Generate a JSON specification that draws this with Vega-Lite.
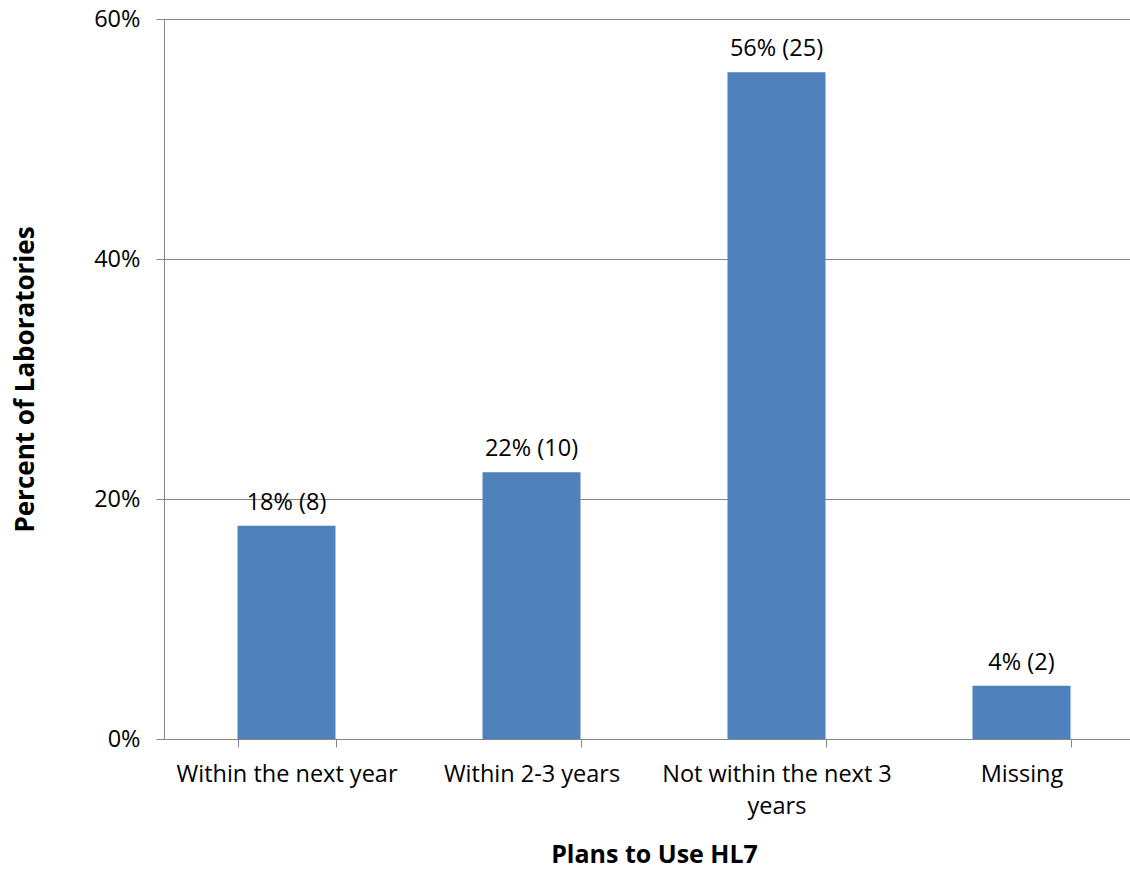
{
  "$schema": "https://vega.github.io/schema/vega-lite/v6.json",
  "width": 980,
  "height": 720,
  "autosize": {"type": "none"},
  "padding": {"left": 164, "top": 19, "right": -14, "bottom": 130},
  "background": "white",
  "config": {
    "view": {"stroke": null},
    "font": "Open Sans",
    "axis": {"labelFont": "Open Sans", "titleFont": "Open Sans", "labelColor": "#000000", "titleColor": "#000000"}
  },
  "data": {
    "values": [
      {"plan": "Within the next year", "pct": 0.1778, "label": "18% (8)"},
      {"plan": "Within 2-3 years", "pct": 0.2222, "label": "22% (10)"},
      {"plan": "Not within the next 3 years", "pct": 0.5556, "label": "56% (25)"},
      {"plan": "Missing", "pct": 0.0444, "label": "4% (2)"}
    ]
  },
  "encoding": {
    "x": {
      "field": "plan",
      "type": "nominal",
      "sort": null,
      "scale": {"paddingInner": 0.6, "paddingOuter": 0.3},
      "axis": {
        "title": "Plans to Use HL7",
        "titleFontSize": 25,
        "titleFontWeight": "bold",
        "titlePadding": 25,
        "labelAngle": 0,
        "labelFontSize": 23.5,
        "labelPadding": 15,
        "labelLineHeight": 32,
        "labelLimit": 500,
        "labelExpr": "datum.label == 'Not within the next 3 years' ? ['Not within the next 3', 'years'] : datum.label",
        "tickBand": "extent",
        "tickSize": 8,
        "tickColor": "#868686",
        "domainColor": "#868686",
        "grid": false
      }
    },
    "y": {
      "field": "pct",
      "type": "quantitative",
      "scale": {"domain": [0, 0.6]},
      "axis": {
        "title": "Percent of Laboratories",
        "titleFontSize": 26,
        "titleFontWeight": "bold",
        "titlePadding": 55,
        "format": ".0%",
        "values": [0, 0.2, 0.4, 0.6],
        "labelFontSize": 23.5,
        "labelPadding": 16,
        "tickSize": 8,
        "tickColor": "#868686",
        "domainColor": "#868686",
        "grid": true,
        "gridColor": "#868686",
        "gridWidth": 1
      }
    }
  },
  "layer": [
    {"mark": {"type": "bar", "color": "#4F81BD"}},
    {
      "mark": {"type": "text", "baseline": "alphabetic", "dy": -16, "fontSize": 23.5, "color": "#000000", "font": "Open Sans"},
      "encoding": {"text": {"field": "label"}}
    }
  ]
}
